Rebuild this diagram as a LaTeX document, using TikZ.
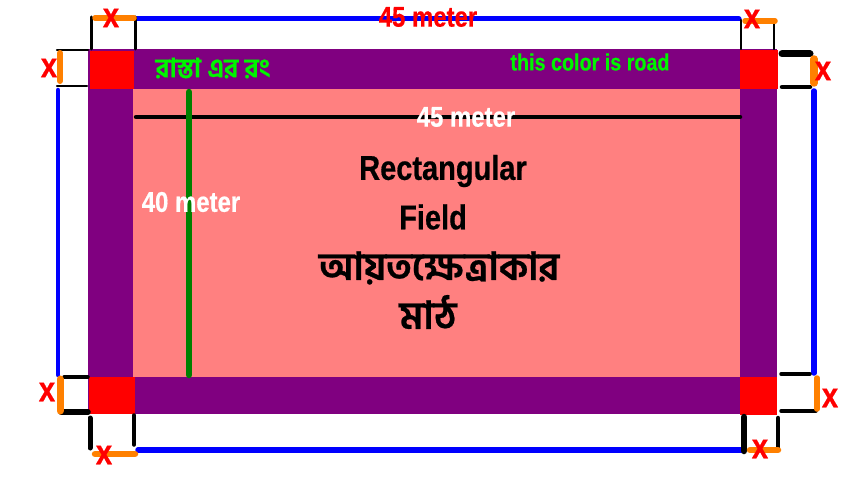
\documentclass[tikz,border=0pt]{standalone}
\usepackage{fontspec}
\setmainfont{Liberation Sans}[FakeStretch=0.84,FakeBold=0.5]
\newfontfamily\bnfont[Script=Bengali,FakeBold=0.6]{Hind Siliguri}
\definecolor{roadcolor}{RGB}{128,0,128}
\definecolor{fieldcolor}{RGB}{255,128,128}
\definecolor{textgreen}{RGB}{0,245,0}
\definecolor{linegreen}{RGB}{0,128,0}
\definecolor{xorange}{RGB}{255,128,0}
\tikzset{
    xlabel/.style={text=red,font=\fontsize{35}{35}\selectfont\bfseries,inner sep=0pt},
    dimlabel/.style={font=\fontsize{28.5}{28.5}\selectfont\bfseries,inner sep=0pt},
    bigtext/.style={font=\fontsize{34.5}{34.5}\selectfont\bfseries,inner sep=0pt},
    bntext/.style={font=\fontsize{38.5}{38.5}\bnfont\bfseries,inner sep=0pt},
    blueline/.style={draw=blue,line width=5pt,line cap=round},
    orangeline/.style={draw=xorange,line width=6.5pt,line cap=round},
    tick/.style={draw=black,line cap=round}
}
\begin{document}
\begin{tikzpicture}[x=1pt,y=-1pt]
    \useasboundingbox (0,0) rectangle (853,500);
    \fill[roadcolor] (88,49) rectangle (777,414);
    \fill[fieldcolor] (133,89) rectangle (740,377);
    \fill[red] (90,51) rectangle (134,89);
    \fill[red] (740,50) rectangle (778,89);
    \fill[red] (89,377) rectangle (135,414);
    \fill[red] (740,377) rectangle (777,415);

    \draw[blueline] (137,19) -- (739,19);
    \draw[blueline,line width=5.5pt] (138,450) -- (743,450);
    \draw[blueline,line width=4.5pt] (58,90) -- (58,375);
    \draw[blueline,line width=5.5pt] (814,91) -- (814,373);

    \draw[tick,line width=3pt] (91,17) -- (91,49);
    \draw[tick,line width=3pt] (135,17) -- (135,49);
    \draw[tick,line width=2.5pt] (741,20) -- (741,49);
    \draw[tick,line width=2.5pt] (774,20) -- (774,49);
    \draw[tick,line width=2.5pt] (57,50) -- (88,50);
    \draw[tick,line width=2.5pt] (57,86) -- (87,86);
    \draw[tick,line width=7pt] (782,54) -- (810,54);
    \draw[tick,line width=4.5pt] (782,87) -- (810,87);
    \draw[tick,line width=3.5pt] (64,377) -- (88,377);
    \draw[tick,line width=5.5pt] (61,412) -- (88,412);
    \draw[tick,line width=5pt] (90,418) -- (90,448);
    \draw[tick,line width=3.5pt] (134,415) -- (134,445);
    \draw[tick,line width=6.5pt] (744,417) -- (744,451);
    \draw[tick,line width=4.5pt] (778,418) -- (778,448);
    \draw[tick,line width=3.5pt] (781,374) -- (810,374);
    \draw[tick,line width=3.5pt] (781,411) -- (816,411);

    \draw[orangeline,line width=5.5pt] (95,18) -- (134,18);
    \draw[orangeline,line width=5.5pt] (745,21) -- (775,21);
    \draw[orangeline,line width=6pt] (60,53) -- (60,81);
    \draw[orangeline,line width=7.5pt] (814,59) -- (814,83);
    \draw[orangeline,line width=7pt] (60,379) -- (60,411);
    \draw[orangeline] (95,454) -- (135,454);
    \draw[orangeline] (750,450) -- (778,450);
    \draw[orangeline,line width=5.5pt] (817,378) -- (817,409);

    \draw[line width=4.5pt,line cap=round] (136,117) -- (740,117);
    \draw[draw=linegreen,line width=6.5pt,line cap=round] (189,92) -- (189,375);

    \node[xlabel] (xtopleft) at (111,18) {x};
    \node[xlabel] (xtopright) at (752,19) {x};
    \node[xlabel] (xlefttop) at (49,68) {x};
    \node[xlabel] (xrighttop) at (823,71) {x};
    \node[xlabel] (xleftbottom) at (47,392) {x};
    \node[xlabel] (xrightbottom) at (830,398) {x};
    \node[xlabel] (xbottomleft) at (104,455) {x};
    \node[xlabel] (xbottomright) at (760,449) {x};

    \node[dimlabel,text=red] (topmeter) at (428,17) {45 meter};
    \node[dimlabel,text=white] (innermeter) at (466,117) {45 meter};
    \node[dimlabel,text=white] (heightmeter) at (191,202) {40 meter};

    \node[font=\fontsize{23.5}{23.5}\selectfont\bfseries,inner sep=0pt,text=textgreen] (roadnote) at (590,62) {this color is road};
    \node[inner sep=0pt,text=textgreen,font=\fontsize{26.5}{26.5}\bnfont\bfseries] (roadnotebn) at (213,68) {রাস্তা এর রং};

    \node[bigtext] (fieldone) at (443,171) {Rectangular};
    \node[bigtext] (fieldtwo) at (433,217) {Field};
    \node[bntext] (fieldthree) at (439,268) {আয়তক্ষেত্রাকার};
    \node[bntext] (fieldfour) at (428,312) {মাঠ};
\end{tikzpicture}
\end{document}
